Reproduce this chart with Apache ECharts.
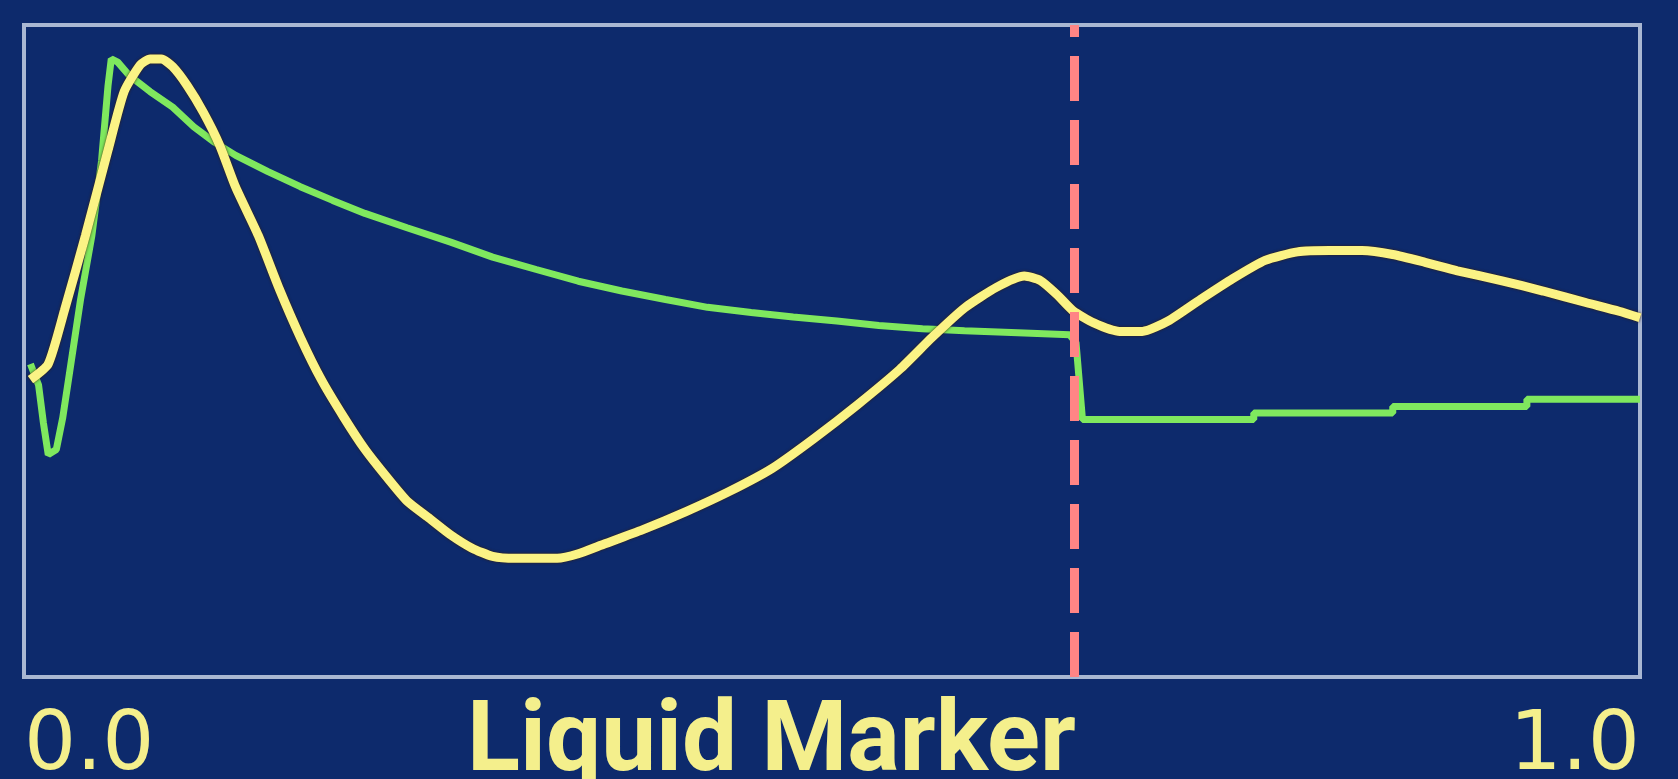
<!DOCTYPE html>
<html>
<head>
<meta charset="utf-8">
<script src="https://cdn.jsdelivr.net/npm/echarts@6/dist/echarts.min.js"></script>
<style>
html,body{margin:0;padding:0;background:#0d2a6c;}
#c{width:1678px;height:779px;}
</style>
</head>
<body>
<div id="c"></div>
<script>
const xTickLabels = ['0.0', '1.0'];
const axisTitle = 'Liquid Marker';
const markerX = 0.65;

const yellowX = [0.004,0.015,0.025,0.038,0.052,0.062,0.072,0.078,0.085,0.092,0.101,0.111,0.121,0.131,0.145,0.158,0.171,0.184,0.198,0.211,0.224,0.237,0.251,0.264,0.277,0.290,0.304,0.330,0.343,0.357,0.383,0.410,0.436,0.463,0.489,0.516,0.542,0.562,0.582,0.602,0.619,0.629,0.639,0.649,0.662,0.678,0.692,0.708,0.728,0.748,0.768,0.788,0.808,0.828,0.847,0.867,0.887,0.914,0.940,0.967,0.987,1.0];
const yellowY = [45.6,48.0,56.2,67.7,80.8,89.8,93.9,94.8,94.8,93.6,90.7,86.6,81.6,75.1,67.7,59.5,52.1,45.6,39.8,34.9,30.8,27.0,24.3,21.8,19.8,18.5,18.2,18.2,18.9,20.2,22.6,25.4,28.4,32.0,36.6,41.8,47.2,52.1,56.6,59.8,61.5,60.8,58.7,56.2,54.3,53.0,53.0,54.6,57.9,61.1,63.9,65.2,65.4,65.4,64.8,63.6,62.3,60.8,59.2,57.4,56.1,55.1];

const greenX = [0.004,0.009,0.012,0.015,0.020,0.024,0.029,0.035,0.042,0.048,0.052,0.054,0.058,0.065,0.078,0.092,0.105,0.118,0.131,0.151,0.171,0.191,0.211,0.237,0.264,0.290,0.317,0.343,0.370,0.397,0.423,0.450,0.476,0.503,0.529,0.556,0.582,0.615,0.647,0.651,0.655,0.761,0.761,0.847,0.847,0.930,0.930,1.0];
const greenY = [48.0,44.8,39.0,34.1,34.9,39.8,48.0,57.9,67.7,79.2,90.7,94.8,94.3,92.3,89.8,87.4,84.4,82.0,80.0,77.5,75.2,73.1,71.1,68.9,66.7,64.4,62.5,60.7,59.2,57.9,56.7,55.9,55.2,54.6,53.9,53.4,53.1,52.8,52.5,51.3,39.5,39.5,40.5,40.5,41.5,41.5,42.6,42.6];

const zip = (xs, ys) => xs.map((x, i) => [x, ys[i]]);

const chart = echarts.init(document.getElementById('c'), null, {renderer: 'canvas'});
chart.setOption({
  backgroundColor: '#0d2a6c',
  animation: false,
  title: {
    text: axisTitle,
    left: 462,
    top: 691,
    textStyle: {color: '#f4ef8c', fontFamily: 'Roboto', fontWeight: 'bold', fontSize: 98, lineHeight: 98}
  },
  grid: {left: 24, right: 38, top: 25, bottom: 102, outerBoundsMode: 'none', containLabel: false,
         show: true, borderColor: '#a9b7d2', borderWidth: 4, backgroundColor: 'transparent'},
  xAxis: {
    type: 'value', min: 0, max: 1, interval: 1,
    axisLine: {show: false}, axisTick: {show: false}, splitLine: {show: false},
    axisLabel: {
      show: true, margin: 30,
      formatter: v => xTickLabels[Math.round(v)],
      alignMinLabel: 'left', alignMaxLabel: 'right',
      color: '#f4ef8c', fontFamily: 'DejaVu Sans', fontSize: 82
    }
  },
  yAxis: {type: 'value', min: 0, max: 100, show: false},
  series: [
    {
      type: 'line', data: zip(greenX, greenY), showSymbol: false, symbol: 'none',
      lineStyle: {color: '#7fe85e', width: 7},
      z: 2
    },
    {
      type: 'line', data: zip(yellowX, yellowY), showSymbol: false, symbol: 'none',
      smooth: 0.2,
      lineStyle: {color: '#fbf385', width: 9, shadowColor: 'rgba(60,30,0,0.9)', shadowBlur: 3},
      z: 3,
      markLine: {
        silent: true, symbol: 'none', label: {show: false},
        lineStyle: {color: '#ff8585', width: 9, type: [45, 19]},
        data: [{xAxis: markerX}]
      }
    }
  ]
});
</script>
</body>
</html>
